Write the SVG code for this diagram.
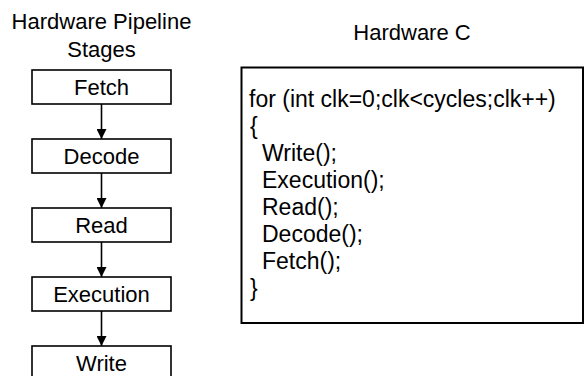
<svg xmlns="http://www.w3.org/2000/svg" width="584" height="376" viewBox="0 0 584 376">
<defs>
<style>
text{font-family:"Liberation Sans",Arial,sans-serif;font-size:22px;fill:#000}
.lbl{text-anchor:middle}
.code{font-size:23px}
.box{fill:#fff;stroke:#000;stroke-width:1.6}
.cbox{fill:#fff;stroke:#000;stroke-width:2}
.conn{stroke:#000;stroke-width:1.6;fill:none}
</style>
<marker id="ah" viewBox="0 0 10 10" refX="10" refY="5" markerWidth="10" markerHeight="10" markerUnits="userSpaceOnUse" orient="auto">
<path d="M0,0 L10,5 L0,10 Z" fill="#000"/>
</marker>
</defs>
<rect width="584" height="376" fill="#fff"/>
<g id="title-pipeline">
<text class="lbl" x="101.5" y="29">Hardware Pipeline</text>
<text class="lbl" x="101.5" y="57">Stages</text>
</g>
<g id="title-c">
<text class="lbl" x="412" y="40">Hardware C</text>
</g>
<g id="connectors">
<line class="conn" x1="101.5" y1="104" x2="101.5" y2="139" marker-end="url(#ah)"/>
<line class="conn" x1="101.5" y1="173" x2="101.5" y2="208" marker-end="url(#ah)"/>
<line class="conn" x1="101.5" y1="242" x2="101.5" y2="277" marker-end="url(#ah)"/>
<line class="conn" x1="101.5" y1="311" x2="101.5" y2="346" marker-end="url(#ah)"/>
</g>
<g id="fetch">
<rect class="box" x="32" y="70" width="139" height="34"/>
<text class="lbl" x="101.5" y="95">Fetch</text>
</g>
<g id="decode">
<rect class="box" x="32" y="139" width="139" height="34"/>
<text class="lbl" x="101.5" y="164">Decode</text>
</g>
<g id="read">
<rect class="box" x="32" y="208" width="139" height="34"/>
<text class="lbl" x="101.5" y="233">Read</text>
</g>
<g id="execution">
<rect class="box" x="32" y="277" width="139" height="34"/>
<text class="lbl" x="101.5" y="302">Execution</text>
</g>
<g id="write">
<rect class="box" x="32" y="346" width="139" height="34"/>
<text class="lbl" x="101.5" y="371">Write</text>
</g>
<g id="code">
<rect class="cbox" x="241.5" y="67.5" width="341.5" height="255.5"/>
<text class="code" x="249" y="107">for (int clk=0;clk&lt;cycles;clk++)</text>
<text class="code" x="250" y="134">{</text>
<text class="code" x="262" y="161">Write();</text>
<text class="code" x="262" y="188">Execution();</text>
<text class="code" x="262" y="215">Read();</text>
<text class="code" x="262" y="242">Decode();</text>
<text class="code" x="262" y="269">Fetch();</text>
<text class="code" x="250" y="296">}</text>
</g>
</svg>
